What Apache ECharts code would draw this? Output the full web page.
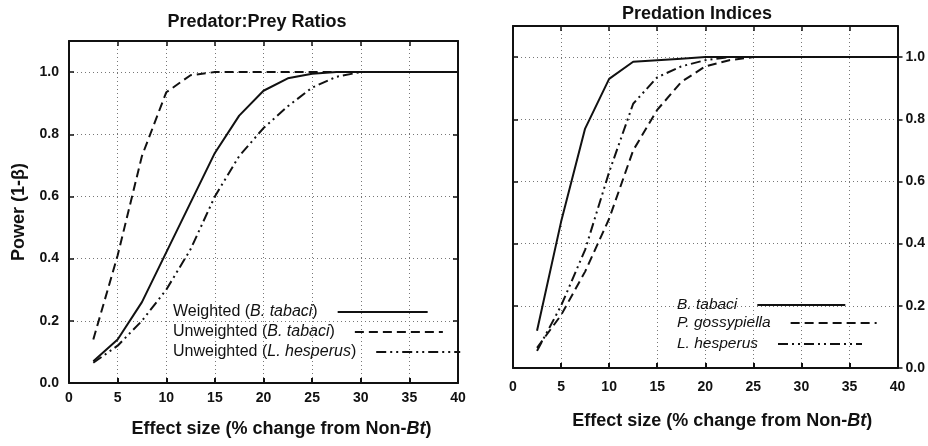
<!DOCTYPE html>
<html><head><meta charset="utf-8">
<script src="https://cdn.jsdelivr.net/npm/echarts@6/dist/echarts.min.js"></script>
<style>html,body{margin:0;padding:0;background:#fff}#c{width:928px;height:446px}</style>
</head><body><div id="c"></div>
<script>
// ---- data ----
const effectSize = [2.5, 5, 7.5, 10, 12.5, 15, 17.5, 20, 22.5, 25, 27.5, 30, 32.5, 35, 37.5, 40];
// Left panel: Predator:Prey Ratios
const weightedBtabaci   = [0.07, 0.14, 0.26, 0.42, 0.58, 0.74, 0.86, 0.94, 0.98, 0.995, 1.0, 1.0, 1.0, 1.0, 1.0, 1.0];
const unweightedBtabaci = [0.14, 0.41, 0.73, 0.935, 0.99, 1.0, 1.0, 1.0, 1.0, 1.0, 1.0, 1.0, 1.0, 1.0, 1.0, 1.0];
const unweightedLhesp   = [0.065, 0.12, 0.20, 0.30, 0.43, 0.60, 0.73, 0.82, 0.89, 0.95, 0.985, 1.0, 1.0, 1.0, 1.0, 1.0];
// Right panel: Predation Indices
const idxBtabaci = [0.12, 0.47, 0.77, 0.93, 0.985, 0.99, 0.995, 1.0, 1.0, 1.0, 1.0, 1.0, 1.0, 1.0, 1.0, 1.0];
const idxPgossyp = [0.065, 0.17, 0.31, 0.48, 0.70, 0.83, 0.92, 0.97, 0.99, 1.0, 1.0, 1.0, 1.0, 1.0, 1.0, 1.0];
const idxLhesp   = [0.055, 0.20, 0.38, 0.63, 0.85, 0.935, 0.97, 0.99, 1.0, 1.0, 1.0, 1.0, 1.0, 1.0, 1.0, 1.0];
// tick labels
const xTickLabels = ['0', '5', '10', '15', '20', '25', '30', '35', '40'];
const yTickLabels = ['0.0', '0.2', '0.4', '0.6', '0.8', '1.0'];
// titles / names
const titles = ['Predator:Prey Ratios', 'Predation Indices'];
const leftNames = ['Weighted (B. tabaci)', 'Unweighted (B. tabaci)', 'Unweighted (L. hesperus)'];
const rightNames = ['B. tabaci', 'P. gossypiella', 'L. hesperus'];

// ---- styling ----
const FONT = "'Liberation Sans', Arial, sans-serif";
const INK = '#111';
const dashTypes = ['solid', [9, 5], [10, 4, 2, 4, 2, 4]];
const gridLine = { show: true, lineStyle: { color: '#777', type: [1, 3], width: 1 } };
const labelStyle = { fontSize: 14, fontWeight: 'bold', color: INK, fontFamily: FONT };
const xFmt = v => { const i = Math.round(v / 5); return (Math.abs(v - i * 5) < 1e-6 && xTickLabels[i] !== undefined) ? xTickLabels[i] : ''; };
const yFmt = v => { const i = Math.round(v / 0.2); return (Math.abs(v - i * 0.2) < 1e-6 && yTickLabels[i] !== undefined) ? yTickLabels[i] : ''; };
const nameRich = {
  b: { fontSize: 18, fontWeight: 'bold', fontFamily: FONT, color: INK },
  bi: { fontSize: 18, fontWeight: 'bold', fontStyle: 'italic', fontFamily: FONT, color: INK }
};
const axisLineStyle = { show: true, onZero: false, lineStyle: { color: INK, width: 2 } };

function xAxisPair(gi, nameGap, margin, shift) {
  return [
    { gridIndex: gi, type: 'value', min: 0, max: 40, interval: 5, position: 'bottom',
      axisLine: axisLineStyle,
      axisTick: { show: true, inside: true, length: 5, lineStyle: { color: INK, width: 2 } },
      axisLabel: Object.assign({ margin: margin, formatter: xFmt }, labelStyle),
      splitLine: gridLine,
      name: '{b|Effect size (% change from Non-}{bi|Bt}{b|)}', nameLocation: 'middle', nameGap: nameGap,
      nameTextStyle: { rich: nameRich, padding: [0, 0, 0, shift] } },
    { gridIndex: gi, type: 'value', min: 0, max: 40, interval: 5, position: 'top',
      axisLine: axisLineStyle,
      axisTick: { show: true, inside: true, length: 5, lineStyle: { color: INK, width: 1.5 } },
      axisLabel: { show: false }, splitLine: { show: false } }
  ];
}
function yAxisPair(gi, labelsLeft) {
  const base = { gridIndex: gi, type: 'value', min: 0, max: 1.1, interval: 0.2, axisLine: axisLineStyle };
  const labelled = Object.assign({}, base, {
    position: labelsLeft ? 'left' : 'right',
    axisTick: { show: true, inside: labelsLeft, length: 5, lineStyle: { color: INK, width: 1.5 } },
    axisLabel: Object.assign({ margin: labelsLeft ? 10 : 8, formatter: yFmt, showMaxLabel: false }, labelStyle),
    splitLine: gridLine
  });
  const plain = Object.assign({}, base, {
    position: labelsLeft ? 'right' : 'left',
    axisTick: { show: true, inside: true, length: 5, lineStyle: { color: INK, width: 1.5 } },
    axisLabel: { show: false }, splitLine: { show: false }
  });
  if (labelsLeft) {
    labelled.name = 'Power (1-β)';
    labelled.nameLocation = 'middle';
    labelled.nameGap = 41;
    labelled.nameTextStyle = { fontSize: 18, fontWeight: 'bold', fontFamily: FONT, color: INK };
  }
  return [labelled, plain];
}

function mkSeries(name, values, dash, axisIdx) {
  return {
    name: name, type: 'line', xAxisIndex: axisIdx, yAxisIndex: axisIdx,
    data: effectSize.map((x, i) => [x, values[i]]),
    symbol: 'none', smooth: false, animation: false,
    lineStyle: { color: INK, width: 2, type: dash },
    itemStyle: { color: INK }
  };
}

function legendRich(size) {
  return {
    n: { fontSize: size, fontFamily: FONT, color: INK },
    i: { fontSize: size, fontFamily: FONT, color: INK, fontStyle: 'italic' }
  };
}
function mkLegend(name, formatted, left, top, size, w) {
  return {
    data: [name], left: left, top: top, orient: 'horizontal', align: 'right',
    padding: 0, itemWidth: w, itemHeight: 14, selectedMode: false,
    itemStyle: { opacity: 0 },
    formatter: () => formatted,
    textStyle: { padding: [0, 15, 0, 0], rich: legendRich(size) }
  };
}

const option = {
  animation: false,
  backgroundColor: '#fff',
  title: [
    { text: titles[0], left: 257, top: 13, padding: 0, textAlign: 'center',
      textStyle: { fontSize: 18, fontWeight: 'bold', fontFamily: FONT, color: INK } },
    { text: titles[1], left: 697, top: 5, padding: 0, textAlign: 'center',
      textStyle: { fontSize: 18, fontWeight: 'bold', fontFamily: FONT, color: INK } }
  ],
  grid: [
    { left: 69, top: 41, width: 389, height: 342 },
    { left: 513, top: 26, width: 385, height: 342 }
  ],
  xAxis: [].concat(xAxisPair(0, 37, 8, 36), xAxisPair(1, 44, 12, 34)),
  yAxis: [].concat(yAxisPair(0, true), yAxisPair(1, false)),
  legend: [
    mkLegend(leftNames[0], '{n|Weighted (}{i|B. tabaci}{n|)}', 173, 304, 16, 90),
    mkLegend(leftNames[1], '{n|Unweighted (}{i|B. tabaci}{n|)}', 173, 324, 16, 88),
    mkLegend(leftNames[2], '{n|Unweighted (}{i|L. hesperus}{n|)}', 173, 344, 16, 84),
    mkLegend(rightNames[0], '{i|B. tabaci}', 677, 297, 15.5, 88),
    mkLegend(rightNames[1], '{i|P. gossypiella}', 677, 315, 15.5, 86),
    mkLegend(rightNames[2], '{i|L. hesperus}', 677, 336, 15.5, 84)
  ],
  series: [
    mkSeries(leftNames[0], weightedBtabaci, dashTypes[0], 0),
    mkSeries(leftNames[1], unweightedBtabaci, dashTypes[1], 0),
    mkSeries(leftNames[2], unweightedLhesp, dashTypes[2], 0),
    mkSeries(rightNames[0], idxBtabaci, dashTypes[0], 2),
    mkSeries(rightNames[1], idxPgossyp, dashTypes[1], 2),
    mkSeries(rightNames[2], idxLhesp, dashTypes[2], 2)
  ]
};
const chart = echarts.init(document.getElementById('c'));
chart.setOption(option);
</script>
</body></html>
